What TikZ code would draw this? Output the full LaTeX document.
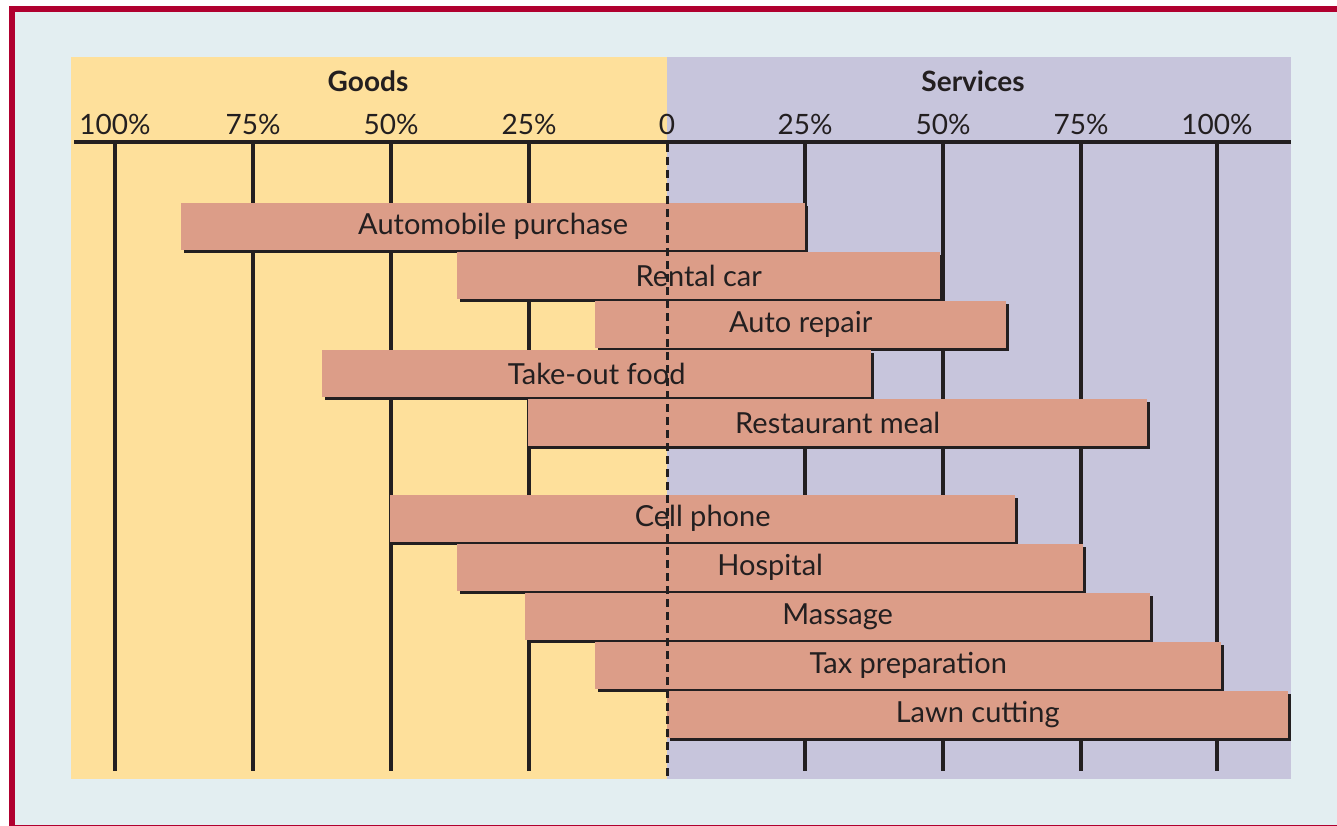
\documentclass[tikz,border=0pt]{standalone}
\usepackage{fontspec}
\setmainfont{Lato}
\usetikzlibrary{shadows}
\definecolor{pagebg}{HTML}{E3EEF1}
\definecolor{framered}{HTML}{B0002F}
\definecolor{goodsbg}{HTML}{FEE09B}
\definecolor{servbg}{HTML}{C7C5DC}
\definecolor{barfill}{HTML}{DC9D88}
\definecolor{ink}{HTML}{231F20}

\begin{document}
\begin{tikzpicture}[x=1pt,y=-1pt,
  gridline/.style={ink, line width=3.2pt},
  bar/.style={fill=barfill, inner sep=0pt, anchor=north west,
    minimum height=47pt, text=ink, font=\fontsize{29}{33}\selectfont,
    drop shadow={shadow xshift=3pt, shadow yshift=-3pt, fill=ink, opacity=1}},
  ticklabel/.style={text=ink, font=\fontsize{28}{32}\selectfont},
  header/.style={text=ink, font=\bfseries\fontsize{28}{32}\selectfont}]

% canvas and frame
\useasboundingbox (0,0) rectangle (1337,826);
\fill[white] (0,0) rectangle (1337,826);
\fill[pagebg] (9,6) rectangle (1337,826);
\fill[framered] (9,6) rectangle (15,826);
\fill[framered] (9,6) rectangle (1337,12);
\fill[framered] (9,824.5) rectangle (1337,826);

% goods / services panels
\fill[goodsbg] (71,57) rectangle (667,779);
\fill[servbg] (667,57) rectangle (1291,779);

% headers
\node[header] (goods) at (368,81) {Goods};
\node[header] (services) at (973,81) {Services};

% axis and scale
\draw[gridline] (74,142) -- (1291,142);
\foreach \x in {115,253,391,529,805,943,1081,1217}
  \draw[gridline] (\x,142) -- (\x,771);
\foreach \x/\t in {115/100\%,253/75\%,391/50\%,529/25\%,667/0,805/25\%,943/50\%,1081/75\%,1217/100\%}
  \node[ticklabel] at (\x,124) {\t};

% bars: goods share to the left of 0, services share to the right
\node[bar, minimum width=624pt] (auto)   at (181,203) {Automobile purchase};
\node[bar, minimum width=483pt] (rental) at (457,252) {Rental car};
\node[bar, minimum width=411pt] (repair) at (595,301) {Auto repair};
\node[bar, minimum width=549pt] (food)   at (322,350) {Take-out food};
\node[bar, minimum width=619pt] (meal)   at (528,399) {Restaurant meal};

\node[bar, minimum width=625pt] (phone)  at (390,495) {Cell phone};
\node[bar, minimum width=626pt] (hosp)   at (457,544) {Hospital};
\node[bar, minimum width=625pt] (massage) at (525,593) {Massage};
\node[bar, minimum width=626pt] (tax)    at (595,642) {Tax preparation};
\node[bar, minimum width=621pt] (lawn)   at (667,691) {Lawn cutting};

% zero line
\draw[ink, line width=3pt, dash pattern=on 8pt off 5pt] (667,144) -- (667,779);
\end{tikzpicture}
\end{document}
